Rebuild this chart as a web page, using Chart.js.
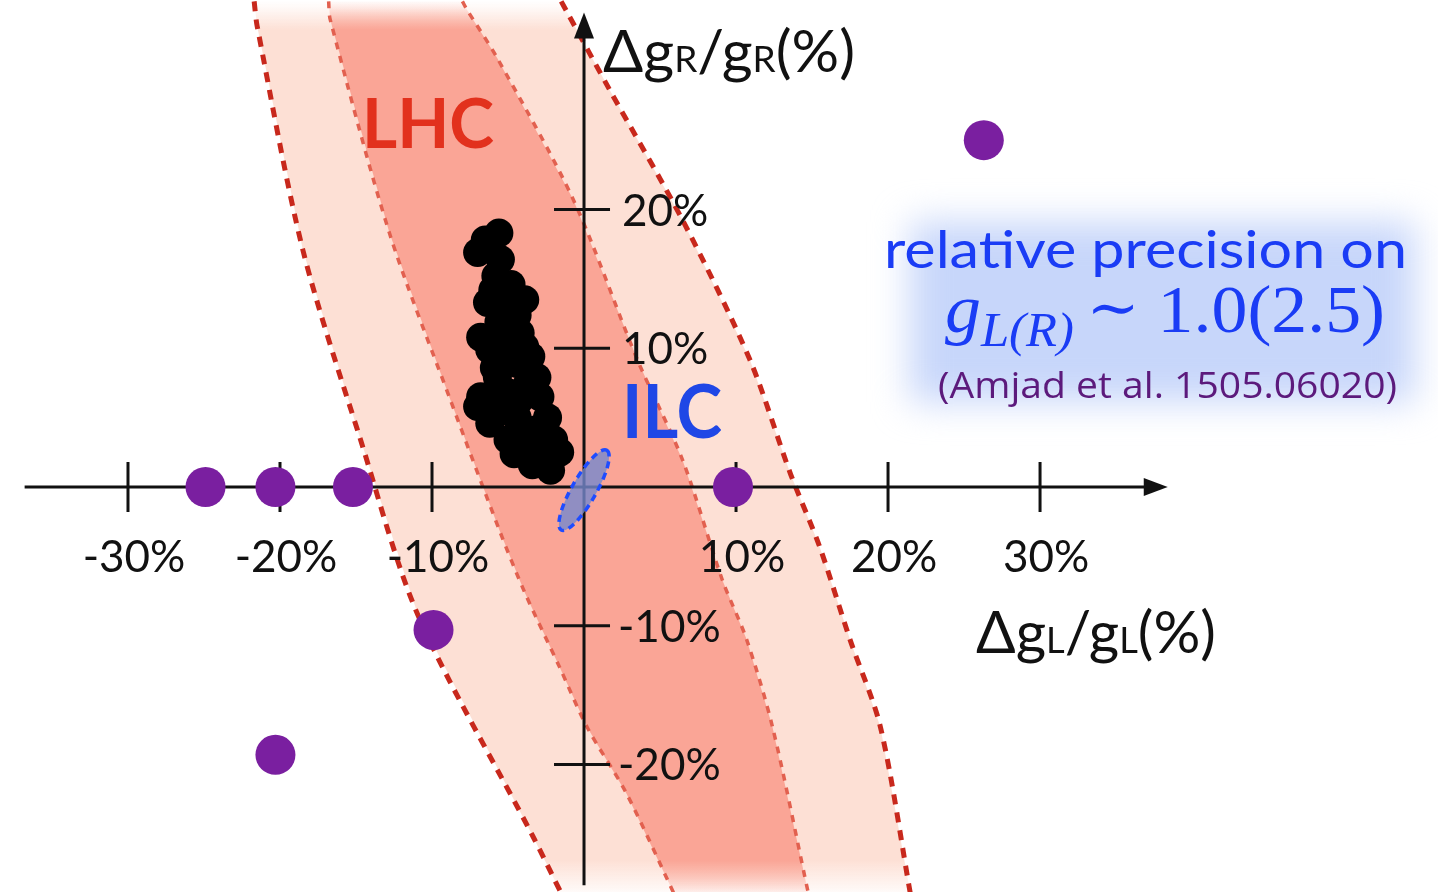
<!DOCTYPE html>
<html>
<head>
<meta charset="utf-8">
<script src="https://cdn.jsdelivr.net/npm/chart.js@4.4.1/dist/chart.umd.min.js"></script>
<style>
  html, body { margin: 0; padding: 0; background: #fff; }
  #wrap { width: 1438px; height: 892px; position: relative; }
</style>
</head>
<body>
<div id="wrap"><canvas id="chart"></canvas></div>
<script>
// --- axis ticks (percent) ---
const xTicks = [-30, -20, -10, 10, 20, 30];
const xTickLabels = ['-30%', '-20%', '-10%', '10%', '20%', '30%'];
const yTicks = [20, 10, -10, -20];
const yTickLabels = ['20%', '10%', '-10%', '-20%'];

// --- LHC band edges, [ΔgL/gL, ΔgR/gR] in % ---
const outerLeft = [[-21.7, 35], [-21.5, 33.2], [-18.5, 17.1], [-14.7, 3.4], [-10.9, -9.3], [-3.4, -25.1], [-1.4, -29.5]];
const outerRight = [[-1.5, 35], [-1.1, 34.2], [1.7, 28.6], [6.5, 19.2], [10.9, 9.2], [13.6, 0.9], [15.5, -4.3], [17.5, -11.0], [19.5, -17.3], [21.5, -29.5]];
const innerLeft = [[-16.8, 35], [-16.7, 33.7], [-12.8, 18.3], [-8.8, 6.3], [-5.5, -3.3], [-3.9, -7.6], [-1.6, -13.0], [0.2, -17.3], [2.8, -22.1], [6.0, -29.5]];
const innerRight = [[-8.0, 35], [-7.7, 34.4], [-5.7, 30.9], [-0.7, 20.7], [3.5, 9.2], [6.5, 1.9], [9.1, -6.7], [10.7, -11.0], [12.4, -17.3], [14.8, -29.5]];

// --- model points ---
const blackPoints = [
    [-5.6, 18.3], [-7.0, 16.9], [-5.5, 16.4], [-6.0, 14.2], [-6.35, 13.3], [-3.9, 13.5],
    [-5.0, 12.8], [-6.8, 10.8], [-5.0, 10.8], [-4.2, 11.1], [-3.5, 9.4], [-5.0, 9.2],
    [-5.7, 7.9], [-3.1, 7.9], [-6.8, 6.5], [-5.0, 6.8], [-2.9, 6.5], [-6.2, 4.6],
    [-4.4, 5.0], [-2.4, 5.0], [-5.0, 3.4], [-3.7, 3.2], [-2.0, 3.4], [-2.9, 2.2],
    [-1.6, 2.5], [-2.2, 1.2], [-7.0, 5.8], [-3.7, 7.5], [-4.4, 8.9], [-6.2, 9.9],
    [-5.8, 15.2], [-4.8, 14.6], [-5.6, 11.9], [-4.3, 6.2], [-3.2, 4.1], [-4.6, 2.4],
    [-6.5, 17.8], [-4.4, 12.4], [-5.9, 8.6], [-3.9, 10.1], [-5.6, 5.4], [-3.4, 1.6]
];
const purplePoints = [[26.3, 25.0], [-24.9, 0], [-20.3, 0], [-15.2, 0], [9.8, 0], [-9.9, -10.3], [-20.3, -19.3]];

// --- ILC ellipse: ends of the long axis, half width (x units) ---
const ilcAxis = [[-1.5, -3.1], [1.5, 2.65]];
const ilcHalfWidth = 0.8;

// extent of the drawn axis lines
const xAxisSpan = [-36.8, 38.4];
const yAxisSpan = [-28.7, 34.2];

const COLORS = {
    light: [253, 224, 213],
    dark: [250, 165, 150],
    dashOuter: '#c8281c',
    dashInner: '#e2604f',
    purple: '#7a1fa0',
    ilcFill: 'rgba(118, 136, 205, 0.8)',
    ilcLine: '#1f4cff',
    lhc: '#e2311d',
    ilc: '#1f47e6',
    note: '#1a3cf5',
    cite: '#5c1a7c'
};

const toXY = arr => arr.map(([x, y]) => ({ x, y }));

// band fill fading out at the top and bottom of the picture
function bandFill(rgb) {
    return (ctx) => {
        const area = ctx.chart.chartArea;
        const solid = `rgb(${rgb.join(',')})`;
        if (!area) return solid;
        const h = area.bottom - area.top;
        const g = ctx.chart.ctx.createLinearGradient(0, area.top, 0, area.bottom);
        g.addColorStop(0, `rgba(${rgb.join(',')},0)`);
        g.addColorStop(8 / h, `rgba(${rgb.join(',')},0.2)`);
        g.addColorStop(30 / h, solid);
        g.addColorStop((h - 32) / h, solid);
        g.addColorStop(1, `rgba(${rgb.join(',')},0.15)`);
        return g;
    };
}

function dashedLine(label, pts, color, width, dash, order) {
    return {
        label, data: toXY(pts), showLine: true, fill: false,
        borderColor: color, borderWidth: width, borderDash: dash,
        pointRadius: 0, tension: 0.3, order
    };
}

// draw text squeezed/stretched to a target width
function fitText(ctx, text, x, y, w) {
    const m = ctx.measureText(text).width;
    ctx.save();
    ctx.translate(x, y);
    ctx.scale(w / m, 1);
    ctx.fillText(text, 0, 0);
    ctx.restore();
}

// pieces = [[text, font, dy]]
function drawPieces(ctx, pieces, x, y, w) {
    let total = 0;
    pieces.forEach(([t, f]) => { ctx.font = f; total += ctx.measureText(t).width; });
    const k = w / total;
    let cx = 0;
    ctx.save();
    ctx.translate(x, y);
    ctx.scale(k, 1);
    pieces.forEach(([t, f, dy]) => {
        ctx.font = f;
        ctx.fillText(t, cx, dy || 0);
        cx += ctx.measureText(t).width;
    });
    ctx.restore();
}

const sketchPlugin = {
    id: 'sketch',
    afterDatasetDraw(chart, args) {
        if (chart.data.datasets[args.index].label !== 'innerRight') return;
        const ctx = chart.ctx;
        const xs = chart.scales.x, ys = chart.scales.y;
        const x0 = xs.getPixelForValue(0), y0 = ys.getPixelForValue(0);
        ctx.save();
        ctx.strokeStyle = '#111';
        ctx.fillStyle = '#111';
        ctx.lineWidth = 3;

        // x axis + arrow
        const xa = xs.getPixelForValue(xAxisSpan[0]), xb = xs.getPixelForValue(xAxisSpan[1]);
        ctx.beginPath(); ctx.moveTo(xa, y0); ctx.lineTo(xb - 10, y0); ctx.stroke();
        ctx.beginPath(); ctx.moveTo(xb, y0); ctx.lineTo(xb - 24, y0 - 9); ctx.lineTo(xb - 24, y0 + 9); ctx.closePath(); ctx.fill();
        // y axis + arrow
        const ya = ys.getPixelForValue(yAxisSpan[0]), yb = ys.getPixelForValue(yAxisSpan[1]);
        ctx.beginPath(); ctx.moveTo(x0, ya); ctx.lineTo(x0, yb + 10); ctx.stroke();
        ctx.beginPath(); ctx.moveTo(x0, yb); ctx.lineTo(x0 - 10, yb + 26); ctx.lineTo(x0 + 10, yb + 26); ctx.closePath(); ctx.fill();

        // tick marks
        xTicks.forEach(v => {
            const px = xs.getPixelForValue(v);
            ctx.beginPath(); ctx.moveTo(px, y0 - 25); ctx.lineTo(px, y0 + 25); ctx.stroke();
        });
        yTicks.forEach(v => {
            const py = ys.getPixelForValue(v);
            ctx.beginPath(); ctx.moveTo(x0 - 30, py); ctx.lineTo(x0 + 26, py); ctx.stroke();
        });

        // ILC ellipse
        const p1 = [xs.getPixelForValue(ilcAxis[0][0]), ys.getPixelForValue(ilcAxis[0][1])];
        const p2 = [xs.getPixelForValue(ilcAxis[1][0]), ys.getPixelForValue(ilcAxis[1][1])];
        const cx = (p1[0] + p2[0]) / 2, cy = (p1[1] + p2[1]) / 2;
        const rx = Math.hypot(p2[0] - p1[0], p2[1] - p1[1]) / 2;
        const ry = Math.abs(xs.getPixelForValue(ilcHalfWidth) - x0);
        const rot = Math.atan2(p2[1] - p1[1], p2[0] - p1[0]);
        ctx.beginPath();
        ctx.ellipse(cx, cy, rx, ry, rot, 0, Math.PI * 2);
        ctx.fillStyle = COLORS.ilcFill;
        ctx.fill();
        ctx.strokeStyle = COLORS.ilcLine;
        ctx.lineWidth = 3.5;
        ctx.setLineDash([7, 5]);
        ctx.stroke();
        ctx.restore();
    },
    afterDraw(chart) {
        const ctx = chart.ctx;
        const xs = chart.scales.x, ys = chart.scales.y;
        const x0 = xs.getPixelForValue(0);
        ctx.save();
        ctx.textBaseline = 'alphabetic';
        ctx.fillStyle = '#111';

        // tick labels
        ctx.font = '44px Lato';
        ctx.textAlign = 'center';
        xTicks.forEach((v, i) => ctx.fillText(xTickLabels[i], xs.getPixelForValue(v) + 6, 572));
        ctx.textAlign = 'left';
        yTicks.forEach((v, i) => {
            const lab = yTickLabels[i];
            const dx = lab.startsWith('-') ? 34 : 38;
            ctx.fillText(lab, x0 + dx, ys.getPixelForValue(v) + 16);
        });

        // axis titles
        const big = '58px Lato', small = '36px Lato';
        drawPieces(ctx, [['Δg', big], ['R', small], ['/g', big], ['R', small], ['(%)', big]], 603, 72, 252);
        drawPieces(ctx, [['Δg', big], ['L', small], ['/g', big], ['L', small], ['(%)', big]], 976, 653, 240);

        // band labels
        ctx.fillStyle = COLORS.lhc;
        ctx.font = 'bold 68px Lato';
        fitText(ctx, 'LHC', 362, 148, 132);
        ctx.fillStyle = COLORS.ilc;
        ctx.font = 'bold 74px Lato';
        fitText(ctx, 'ILC', 622, 438, 100);

        // note box with soft glow
        ctx.save();
        ctx.filter = 'blur(18px)';
        ctx.fillStyle = 'rgba(196, 212, 250, 0.95)';
        ctx.fillRect(910, 222, 505, 180);
        ctx.restore();

        ctx.fillStyle = COLORS.note;
        ctx.font = '52px Lato';
        fitText(ctx, 'relative precision on', 884, 268, 523);

        drawPieces(ctx, [
            ['g', 'italic 68px "Liberation Serif"'],
            ['L(R)', 'italic 48px "Liberation Serif"', 14],
            [' ', '48px "Liberation Serif"'],
            ['∼', '60px "DejaVu Serif"', -4],
            [' 1.0(2.5)', '68px "Liberation Serif"']
        ], 945, 332, 440);

        ctx.fillStyle = COLORS.cite;
        ctx.font = '36px "Open Sans"';
        fitText(ctx, '(Amjad et al. 1505.06020)', 938, 398, 459);
        ctx.restore();
    }
};

new Chart(document.getElementById('chart'), {
    type: 'scatter',
    data: {
        datasets: [
            {
                label: 'lightBand', data: toXY(outerLeft.concat(outerRight.slice().reverse())),
                showLine: true, fill: 'shape', backgroundColor: bandFill(COLORS.light),
                borderWidth: 0, pointRadius: 0, tension: 0, order: 9
            },
            {
                label: 'darkBand', data: toXY(innerLeft.concat(innerRight.slice().reverse())),
                showLine: true, fill: 'shape', backgroundColor: bandFill(COLORS.dark),
                borderWidth: 0, pointRadius: 0, tension: 0, order: 8
            },
            dashedLine('outerLeft', outerLeft, COLORS.dashOuter, 5, [10, 8], 7),
            dashedLine('outerRight', outerRight, COLORS.dashOuter, 5, [10, 8], 6),
            dashedLine('innerLeft', innerLeft, COLORS.dashInner, 3.5, [7, 7], 5),
            dashedLine('innerRight', innerRight, COLORS.dashInner, 3.5, [7, 7], 4),
            {
                label: 'models', data: toXY(blackPoints),
                backgroundColor: '#000', borderWidth: 0, pointRadius: 14.5, order: 2
            },
            {
                label: 'benchmarks', data: toXY(purplePoints),
                backgroundColor: COLORS.purple, borderWidth: 0, pointRadius: 20, order: 1
            }
        ]
    },
    options: {
        responsive: true,
        maintainAspectRatio: false,
        animation: false,
        devicePixelRatio: 1,
        layout: { padding: 0, autoPadding: false },
        plugins: { legend: { display: false }, tooltip: { enabled: false } },
        scales: {
            x: { type: 'linear', display: false, min: -38.42, max: 56.18 },
            y: { type: 'linear', display: false, min: -29.19, max: 35.1 }
        }
    },
    plugins: [sketchPlugin]
});
</script>
</body>
</html>
